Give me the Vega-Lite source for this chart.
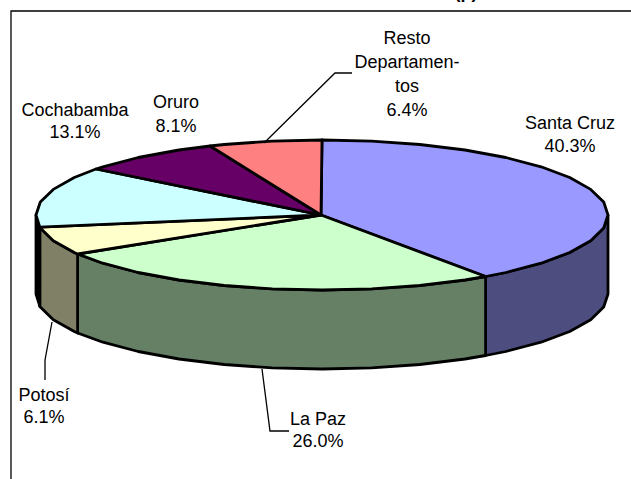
{
"$schema":"https://vega.github.io/schema/vega-lite/v6.json",
"width":631,"height":479,"padding":0,"autosize":{"type":"none"},
"background":"white",
"config":{"view":{"stroke":null}},
"datasets":{
"faces":[
{"part":"Santa Cruz wall","x":608,"y":215},{"part":"Santa Cruz wall","x":603.7,"y":228},{"part":"Santa Cruz wall","x":590.7,"y":240.7},{"part":"Santa Cruz wall","x":569.7,"y":252.5},{"part":"Santa Cruz wall","x":541.1,"y":263.2},{"part":"Santa Cruz wall","x":505.8,"y":272.5},{"part":"Santa Cruz wall","x":485.6,"y":276.5},{"part":"Santa Cruz wall","x":485.6,"y":355.5},{"part":"Santa Cruz wall","x":505.8,"y":351.5},{"part":"Santa Cruz wall","x":541.1,"y":342.2},{"part":"Santa Cruz wall","x":569.7,"y":331.5},{"part":"Santa Cruz wall","x":590.7,"y":319.7},{"part":"Santa Cruz wall","x":603.7,"y":307},{"part":"Santa Cruz wall","x":608,"y":294},{"part":"Santa Cruz wall","x":608,"y":215},
{"part":"La Paz wall","x":485.6,"y":276.5},{"part":"La Paz wall","x":465,"y":280},{"part":"La Paz wall","x":419.8,"y":285.5},{"part":"La Paz wall","x":371.7,"y":288.9},{"part":"La Paz wall","x":322,"y":290},{"part":"La Paz wall","x":272.3,"y":288.9},{"part":"La Paz wall","x":224.2,"y":285.5},{"part":"La Paz wall","x":179,"y":280},{"part":"La Paz wall","x":138.2,"y":272.5},{"part":"La Paz wall","x":102.9,"y":263.2},{"part":"La Paz wall","x":77.6,"y":254},{"part":"La Paz wall","x":77.6,"y":333},{"part":"La Paz wall","x":102.9,"y":342.2},{"part":"La Paz wall","x":138.2,"y":351.5},{"part":"La Paz wall","x":179,"y":359},{"part":"La Paz wall","x":224.2,"y":364.5},{"part":"La Paz wall","x":272.3,"y":367.9},{"part":"La Paz wall","x":322,"y":369},{"part":"La Paz wall","x":371.7,"y":367.9},{"part":"La Paz wall","x":419.8,"y":364.5},{"part":"La Paz wall","x":465,"y":359},{"part":"La Paz wall","x":485.6,"y":355.5},{"part":"La Paz wall","x":485.6,"y":276.5},
{"part":"Potosí wall","x":77.6,"y":254},{"part":"Potosí wall","x":74.3,"y":252.5},{"part":"Potosí wall","x":53.3,"y":240.7},{"part":"Potosí wall","x":40.3,"y":228},{"part":"Potosí wall","x":39.8,"y":227.2},{"part":"Potosí wall","x":39.8,"y":306.2},{"part":"Potosí wall","x":40.3,"y":307},{"part":"Potosí wall","x":53.3,"y":319.7},{"part":"Potosí wall","x":74.3,"y":331.5},{"part":"Potosí wall","x":77.6,"y":333},{"part":"Potosí wall","x":77.6,"y":254},
{"part":"Cochabamba wall","x":39.8,"y":227.2},{"part":"Cochabamba wall","x":36,"y":215},{"part":"Cochabamba wall","x":36,"y":294},{"part":"Cochabamba wall","x":39.8,"y":306.2},{"part":"Cochabamba wall","x":39.8,"y":227.2},
{"part":"Santa Cruz","x":321,"y":215},{"part":"Santa Cruz","x":322,"y":140},{"part":"Santa Cruz","x":371.7,"y":141.1},{"part":"Santa Cruz","x":419.8,"y":144.5},{"part":"Santa Cruz","x":465,"y":150},{"part":"Santa Cruz","x":505.8,"y":157.5},{"part":"Santa Cruz","x":541.1,"y":166.8},{"part":"Santa Cruz","x":569.7,"y":177.5},{"part":"Santa Cruz","x":590.7,"y":189.4},{"part":"Santa Cruz","x":603.7,"y":202},{"part":"Santa Cruz","x":608,"y":215},{"part":"Santa Cruz","x":603.7,"y":228},{"part":"Santa Cruz","x":590.7,"y":240.7},{"part":"Santa Cruz","x":569.7,"y":252.5},{"part":"Santa Cruz","x":541.1,"y":263.2},{"part":"Santa Cruz","x":505.8,"y":272.5},{"part":"Santa Cruz","x":485.6,"y":276.5},{"part":"Santa Cruz","x":321,"y":215},
{"part":"La Paz","x":321,"y":215},{"part":"La Paz","x":485.6,"y":276.5},{"part":"La Paz","x":465,"y":280},{"part":"La Paz","x":419.8,"y":285.5},{"part":"La Paz","x":371.7,"y":288.9},{"part":"La Paz","x":322,"y":290},{"part":"La Paz","x":272.3,"y":288.9},{"part":"La Paz","x":224.2,"y":285.5},{"part":"La Paz","x":179,"y":280},{"part":"La Paz","x":138.2,"y":272.5},{"part":"La Paz","x":102.9,"y":263.2},{"part":"La Paz","x":77.6,"y":254},{"part":"La Paz","x":321,"y":215},
{"part":"Potosí","x":321,"y":215},{"part":"Potosí","x":77.6,"y":254},{"part":"Potosí","x":74.3,"y":252.5},{"part":"Potosí","x":53.3,"y":240.7},{"part":"Potosí","x":40.3,"y":228},{"part":"Potosí","x":39.8,"y":227.2},{"part":"Potosí","x":321,"y":215},
{"part":"Cochabamba","x":321,"y":215},{"part":"Cochabamba","x":39.8,"y":227.2},{"part":"Cochabamba","x":36,"y":215},{"part":"Cochabamba","x":40.3,"y":202},{"part":"Cochabamba","x":53.3,"y":189.4},{"part":"Cochabamba","x":74.3,"y":177.5},{"part":"Cochabamba","x":96,"y":169},{"part":"Cochabamba","x":321,"y":215},
{"part":"Oruro","x":321,"y":215},{"part":"Oruro","x":96,"y":169},{"part":"Oruro","x":102.9,"y":166.8},{"part":"Oruro","x":138.2,"y":157.5},{"part":"Oruro","x":179,"y":150},{"part":"Oruro","x":210.1,"y":146},{"part":"Oruro","x":321,"y":215},
{"part":"Resto Departamentos","x":321,"y":215},{"part":"Resto Departamentos","x":210.1,"y":146},{"part":"Resto Departamentos","x":224.2,"y":144.5},{"part":"Resto Departamentos","x":272.3,"y":141.1},{"part":"Resto Departamentos","x":322,"y":140},{"part":"Resto Departamentos","x":321,"y":215}
],
"guides":[
{"g":"frame","x":631,"y":11},{"g":"frame","x":11,"y":11},{"g":"frame","x":11,"y":479},
{"g":"Resto","x":352,"y":73},{"g":"Resto","x":335,"y":73},{"g":"Resto","x":264,"y":143},
{"g":"Potosí","x":52,"y":322},{"g":"Potosí","x":45,"y":360},{"g":"Potosí","x":45,"y":380},
{"g":"La Paz","x":262,"y":369},{"g":"La Paz","x":270,"y":431},{"g":"La Paz","x":289,"y":431}
],
"labels":[
{"t":"Resto","x":407,"y":39},{"t":"Departamen-","x":407,"y":63},{"t":"tos","x":407,"y":87},{"t":"6.4%","x":407,"y":111},
{"t":"Santa Cruz","x":570,"y":124},{"t":"40.3%","x":570,"y":147},
{"t":"Cochabamba","x":75,"y":111},{"t":"13.1%","x":75,"y":133},
{"t":"Oruro","x":176,"y":103},{"t":"8.1%","x":176,"y":127},
{"t":"Potosí","x":44,"y":396},{"t":"6.1%","x":44,"y":418},
{"t":"La Paz","x":318,"y":420},{"t":"26.0%","x":318,"y":442}
],
"heading":[{"t":"(p)","x":466,"y":-2}]
},
"layer":[
{"data":{"name":"faces"},
 "transform":[{"window":[{"op":"row_number","as":"seq"}]}],
 "mark":{"type":"line","stroke":"black","strokeWidth":2.8,"strokeJoin":"round"},
 "encoding":{
  "x":{"field":"x","type":"quantitative","scale":{"domain":[0,631],"nice":false,"zero":false},"axis":null},
  "y":{"field":"y","type":"quantitative","scale":{"domain":[479,0],"nice":false,"zero":false},"axis":null},
  "detail":{"field":"part"},
  "order":{"field":"seq","type":"quantitative"},
  "fill":{"field":"part","type":"nominal","legend":null,"scale":{
   "domain":["Santa Cruz wall","La Paz wall","Potosí wall","Cochabamba wall","Santa Cruz","La Paz","Potosí","Cochabamba","Oruro","Resto Departamentos"],
   "range":["#4d4d80","#668066","#808066","#000000","#9999ff","#ccffcc","#ffffcc","#ccffff","#660066","#ff8080"]}}
 }
},
{"data":{"name":"guides"},
 "transform":[{"window":[{"op":"row_number","as":"seq"}]}],
 "mark":{"type":"line","stroke":"black","strokeWidth":1.3},
 "encoding":{
  "x":{"field":"x","type":"quantitative","axis":null},
  "y":{"field":"y","type":"quantitative","axis":null},
  "detail":{"field":"g"},
  "order":{"field":"seq","type":"quantitative"}
 }
},
{"data":{"name":"labels"},
 "mark":{"type":"text","font":"Liberation Sans","fontSize":18,"color":"black","align":"center","baseline":"middle"},
 "encoding":{
  "x":{"field":"x","type":"quantitative","axis":null},
  "y":{"field":"y","type":"quantitative","axis":null},
  "text":{"field":"t"}
 }
},
{"data":{"name":"heading"},
 "mark":{"type":"text","font":"Liberation Sans","fontSize":18,"fontWeight":"bold","color":"black","align":"center","baseline":"alphabetic"},
 "encoding":{
  "x":{"field":"x","type":"quantitative","axis":null},
  "y":{"field":"y","type":"quantitative","axis":null},
  "text":{"field":"t"}
 }
}
]
}
